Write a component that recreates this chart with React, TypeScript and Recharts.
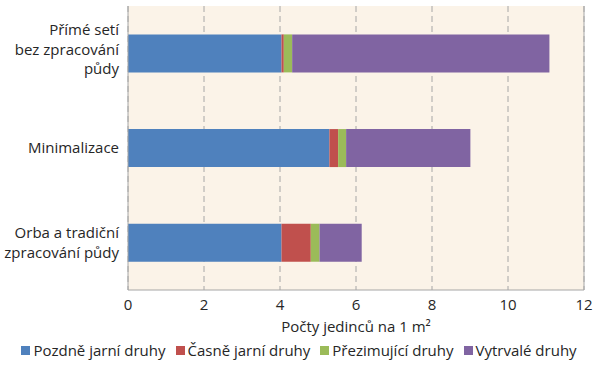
import {
  BarChart,
  Bar,
  XAxis,
  YAxis,
  CartesianGrid,
  Legend,
  ReferenceLine,
} from "recharts";

const categories = [
  ["Přímé setí", "bez zpracování", "půdy"],
  ["Minimalizace"],
  ["Orba a tradiční", "zpracování půdy"],
];
const pozdneJarni = [4.04, 5.3, 4.04];
const casneJarni = [0.06, 0.23, 0.77];
const prezimujici = [0.22, 0.21, 0.23];
const vytrvale = [6.77, 3.27, 1.11];
const xTicks = [0, 2, 4, 6, 8, 10, 12];

const series = [
  { key: "pozdne", name: "Pozdně jarní druhy", color: "#4F81BD" },
  { key: "casne", name: "Časně jarní druhy", color: "#C0504D" },
  { key: "prezim", name: "Přezimující druhy", color: "#9BBB59" },
  { key: "vytrvale", name: "Vytrvalé druhy", color: "#8064A2" },
];

const data = categories.map((lines, i) => ({
  name: lines.join(" "),
  lines,
  pozdne: pozdneJarni[i],
  casne: casneJarni[i],
  prezim: prezimujici[i],
  vytrvale: vytrvale[i],
}));

const FONT = "'Open Sans', sans-serif";
const TEXT = "#262626";

function CategoryTick(props: any) {
  const { x, y, payload } = props;
  const lines: string[] = data[payload.index]?.lines ?? [payload.value];
  const lh = 19.5;
  const start = -((lines.length - 1) * lh) / 2 - (lines.length > 2 ? 4 : 0);
  return (
    <text x={x - 1} y={y} textAnchor="end" fontSize={15} fill={TEXT} fontFamily={FONT}>
      {lines.map((l, i) => (
        <tspan key={i} x={x - 1} y={y + start + i * lh} dy="0.35em">
          {l}
        </tspan>
      ))}
    </text>
  );
}

function LegendContent() {
  return (
    <div
      style={{
        display: "flex",
        justifyContent: "center",
        gap: 10,
        fontFamily: FONT,
        fontSize: 15,
        color: TEXT,
        paddingLeft: 14,
      }}
    >
      {series.map((s) => (
        <div key={s.key} style={{ display: "flex", alignItems: "center" }}>
          <span style={{ width: 9, height: 9, background: s.color, marginRight: 3, display: "inline-block" }} />
          {s.name}
        </div>
      ))}
    </div>
  );
}

export default function App() {
  return (
    <div style={{ position: "absolute", left: 0, top: 0, width: 600, height: 366, background: "#fff" }}>
      <BarChart
        width={600}
        height={366}
        data={data}
        layout="vertical"
        barCategoryGap="30%"
        margin={{ top: 6, right: 16, bottom: 0, left: 0 }}
      >
        <CartesianGrid
          horizontal={false}
          vertical
          fill="#FBF3E8"
          stroke="#A6A6A6"
          strokeDasharray="6 4"
        />
        <XAxis
          type="number"
          domain={[0, 12]}
          ticks={xTicks}
          tickLine={false}
          axisLine={{ stroke: "#A6A6A6" }}
          tick={{ fontSize: 15, fill: TEXT, fontFamily: FONT }}
          tickMargin={3}
          height={50}
          label={{
            value: "Počty jedinců na 1 m²",
            position: "insideBottom",
            offset: 8,
            style: { fontSize: 15, fill: TEXT, fontFamily: FONT },
          }}
        />
        <XAxis
          xAxisId="top"
          orientation="top"
          type="number"
          domain={[0, 12]}
          tick={false}
          tickLine={false}
          height={0}
          axisLine={{ stroke: "#A6A6A6" }}
        />
        <YAxis
          type="category"
          dataKey="name"
          width={128}
          tickLine={false}
          axisLine={{ stroke: "#A6A6A6" }}
          tick={<CategoryTick />}
          interval={0}
        />
        <ReferenceLine x={12} stroke="#A6A6A6" strokeWidth={1} />
        <Legend verticalAlign="bottom" height={26} content={<LegendContent />} />
        {series.map((s) => (
          <Bar
            key={s.key}
            dataKey={s.key}
            name={s.name}
            stackId="a"
            fill={s.color}
            isAnimationActive={false}
          />
        ))}
      </BarChart>
    </div>
  );
}
